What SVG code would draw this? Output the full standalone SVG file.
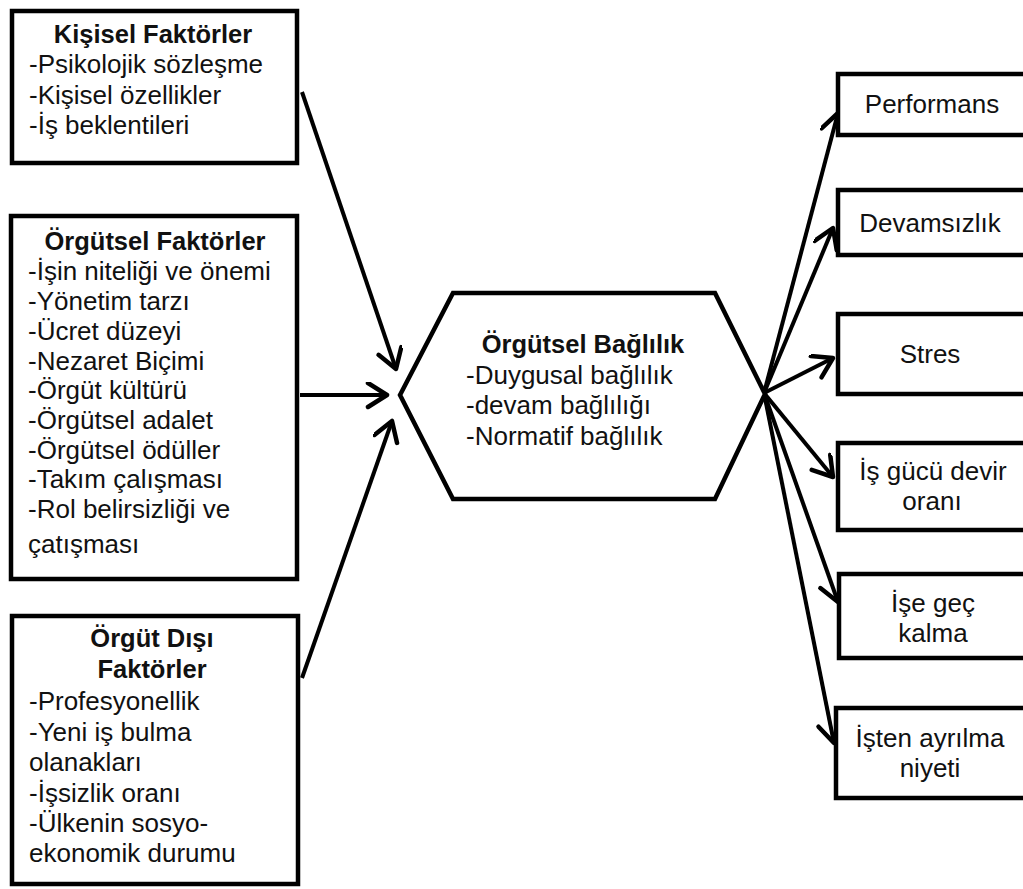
<svg xmlns="http://www.w3.org/2000/svg" width="1023" height="889" viewBox="0 0 1023 889">
<style>
.box{fill:#fff;stroke:#000;stroke-width:4.5}
.t{font-family:"Liberation Sans",Arial,sans-serif;font-size:26px;fill:#111}
.b{font-weight:bold;font-size:25.5px;text-anchor:middle}
.c{text-anchor:middle}
.con{stroke:#000;stroke-width:4;fill:none;marker-end:url(#ah)}
</style>
<defs>
<marker id="ah" markerUnits="userSpaceOnUse" markerWidth="30" markerHeight="30" refX="22" refY="13" orient="auto">
<path d="M3,1 L22,13 L3,25" fill="none" stroke="#000" stroke-width="4.5" stroke-linejoin="round" stroke-linecap="round"/>
</marker>
</defs>
<rect width="1023" height="889" fill="#fff"/>
<g id="connectors">
<path class="con" d="M302,92 L396,369"/>
<path class="con" d="M300,395 L387,395"/>
<path class="con" d="M302,678 L392,421"/>
<path class="con" d="M764,393 L838,113"/>
<path class="con" d="M764,393 L833,228"/>
<path class="con" d="M764,393 L833,358"/>
<path class="con" d="M764,393 L833,477"/>
<path class="con" d="M764,393 L838,602"/>
<path class="con" d="M764,393 L834,743"/>
</g>
<g id="kisisel">
<rect class="box" x="12" y="11" width="285" height="152"/>
<text class="t b" x="153" y="43">Kişisel Faktörler</text>
<text class="t" x="29" y="73">-Psikolojik sözleşme</text>
<text class="t" x="29" y="104">-Kişisel özellikler</text>
<text class="t" x="29" y="134">-İş beklentileri</text>
</g>
<g id="orgutsel">
<rect class="box" x="11" y="216" width="286" height="363"/>
<text class="t b" x="155" y="250">Örgütsel Faktörler</text>
<text class="t" x="28" y="280">-İşin niteliği ve önemi</text>
<text class="t" x="28" y="310">-Yönetim tarzı</text>
<text class="t" x="28" y="340">-Ücret düzeyi</text>
<text class="t" x="28" y="370">-Nezaret  Biçimi</text>
<text class="t" x="28" y="399">-Örgüt kültürü</text>
<text class="t" x="28" y="429">-Örgütsel adalet</text>
<text class="t" x="28" y="459">-Örgütsel ödüller</text>
<text class="t" x="28" y="488">-Takım çalışması</text>
<text class="t" x="28" y="518">-Rol belirsizliği ve</text>
<text class="t" x="28" y="553">çatışması</text>
</g>
<g id="orgutdisi">
<rect class="box" x="12" y="616" width="286" height="268"/>
<text class="t b" x="152" y="647">Örgüt Dışı</text>
<text class="t b" x="152" y="678">Faktörler</text>
<text class="t" x="29" y="710">-Profesyonellik</text>
<text class="t" x="29" y="741">-Yeni iş bulma</text>
<text class="t" x="29" y="771">olanakları</text>
<text class="t" x="29" y="802">-İşsizlik oranı</text>
<text class="t" x="29" y="832">-Ülkenin sosyo-</text>
<text class="t" x="29" y="862">ekonomik durumu</text>
</g>
<g id="baglilik">
<polygon class="box" points="400,395 453,293 715,293 765,394 715,499 453,499"/>
<text class="t b" x="583" y="353">Örgütsel Bağlılık</text>
<text class="t" x="466" y="384">-Duygusal bağlılık</text>
<text class="t" x="466" y="414">-devam bağlılığı</text>
<text class="t" x="466" y="445">-Normatif bağlılık</text>
</g>
<g id="performans">
<rect class="box" x="838" y="74" width="200" height="61"/>
<text class="t c" x="932" y="113">Performans</text>
</g>
<g id="devamsizlik">
<rect class="box" x="838" y="190" width="200" height="65"/>
<text class="t c" x="930" y="232">Devamsızlık</text>
</g>
<g id="stres">
<rect class="box" x="838" y="314" width="200" height="80"/>
<text class="t c" x="930" y="363">Stres</text>
</g>
<g id="isgucu">
<rect class="box" x="838" y="443" width="200" height="87"/>
<text class="t c" x="933" y="480">İş gücü devir</text>
<text class="t c" x="932" y="510">oranı</text>
</g>
<g id="isegec">
<rect class="box" x="839" y="574" width="200" height="84"/>
<text class="t c" x="933" y="612">İşe geç</text>
<text class="t c" x="933" y="642">kalma</text>
</g>
<g id="istenayrilma">
<rect class="box" x="836" y="708" width="200" height="90"/>
<text class="t c" x="930" y="747">İşten ayrılma</text>
<text class="t c" x="930" y="777">niyeti</text>
</g>
</svg>
